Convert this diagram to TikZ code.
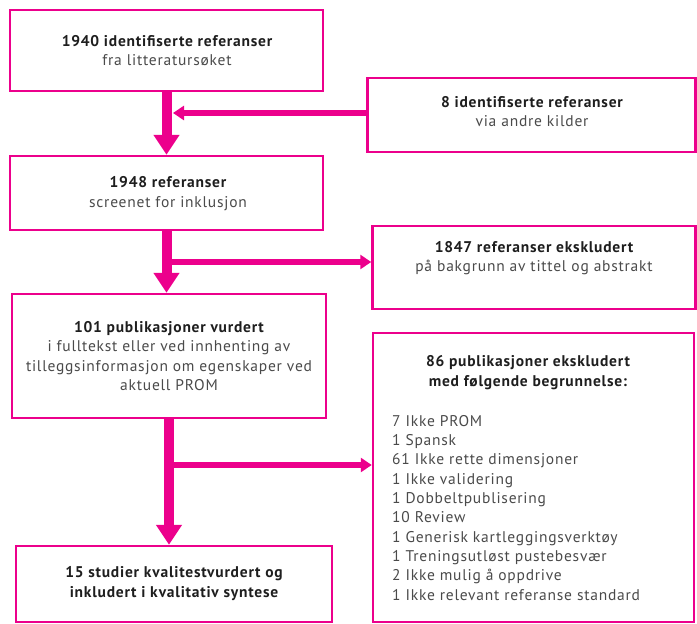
\documentclass[tikz,border=0pt]{standalone}
\usepackage{fontspec}
\setmainfont{PT Sans}[LetterSpace=5]
\usepackage{xcolor}
\usetikzlibrary{arrows.meta,positioning}
\definecolor{prom}{HTML}{EC008C}
\definecolor{tekst}{HTML}{4A4A4A}
\definecolor{fet}{HTML}{1E1E1E}

\begin{document}
\begin{tikzpicture}[x=1pt,y=-1pt,
    box/.style={draw=prom, line width=2.5pt, inner sep=0pt},
    txt/.style={align=center, text=tekst, inner sep=0pt, font=\fontsize{15.5}{19.5}\selectfont},
    hoved/.style={-{Triangle[width=25pt,length=20pt]}, line width=10pt, prom},
    side/.style={-{Triangle[width=14pt,length=11pt]}, line width=5.5pt, prom}]

    \useasboundingbox (0,0) rectangle (697,624);

    % boxes
    \node[box, minimum width=313pt, minimum height=81pt] (lit) at (166.5,50.5) {};
    \node[box, minimum width=328pt, minimum height=74pt] (andre) at (531.5,115) {};
    \node[box, minimum width=313pt, minimum height=74pt] (screen) at (166.5,193) {};
    \node[box, minimum width=323pt, minimum height=83pt] (eks1) at (534,267.5) {};
    \node[box, minimum width=314pt, minimum height=124pt] (vurd) at (169,356) {};
    \node[box, minimum width=321pt, minimum height=289pt] (eks2) at (533.5,477.5) {};
    \node[box, minimum width=316pt, minimum height=76pt] (studier) at (174,584) {};

    % texts
    \node[txt] (t1) at (167,50.5) {\textcolor{fet}{\bfseries 1940 identifiserte referanser}\\fra litteratursøket};
    \node[txt] (t2) at (532,111.5) {\textcolor{fet}{\bfseries 8 identifiserte referanser}\\via andre kilder};
    \node[txt] (t3) at (168,193.5) {\textcolor{fet}{\bfseries 1948 referanser}\\screenet for inklusjon};
    \node[txt] (t4) at (534,258) {\textcolor{fet}{\bfseries 1847 referanser ekskludert}\\på bakgrunn av tittel og abstrakt};
    \node[txt] (t5) at (169,356) {\textcolor{fet}{\bfseries 101 publikasjoner vurdert}\\i fulltekst eller ved innhenting av\\tilleggsinformasjon om egenskaper ved\\aktuell PROM};
    \node[txt, text=fet, font=\fontsize{15.5}{20}\selectfont\bfseries] (t6) at (528,373) {86 publikasjoner ekskludert\\med følgende begrunnelse:};
    \node[txt, align=left, anchor=north west, font=\fontsize{15.5}{19.33}\selectfont] (liste) at (392,415) {7 Ikke PROM\\1 Spansk\\61 Ikke rette dimensjoner\\1 Ikke validering\\1 Dobbeltpublisering\\10 Review\\1 Generisk kartleggingsverktøy\\1 Treningsutløst pustebesvær\\2 Ikke mulig å oppdrive\\1 Ikke relevant referanse standard};
    \node[txt, text=fet, font=\fontsize{15.5}{19.5}\selectfont\bfseries] (t7) at (174,583.5) {15 studier kvalitestvurdert og\\inkludert i kvalitativ syntese};

    % arrows
    \draw[hoved] (lit.south) -- (screen.north);
    \coordinate (inn) at (173,113);
    \draw[side] (andre.west |- inn) -- (inn);
    \draw[hoved] (screen.south) -- (screen.south |- vurd.north);
    \coordinate (ut1) at (168,262);
    \draw[side] (ut1) -- (ut1 -| eks1.west);
    \draw[hoved] (vurd.south) -- (vurd.south |- studier.north);
    \coordinate (ut2) at (169,465);
    \draw[side] (ut2) -- (ut2 -| eks2.west);
\end{tikzpicture}
\end{document}
